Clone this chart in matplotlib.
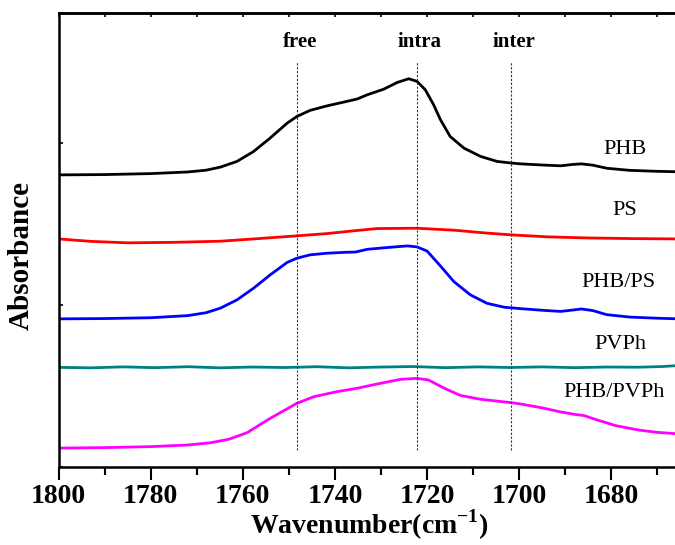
import matplotlib.pyplot as plt
from matplotlib.ticker import MultipleLocator

# ---------------- data ----------------
phb_x = [1800, 1790, 1780, 1772, 1768, 1764.9, 1761.3, 1757.7, 1754.1, 1750.4, 1748.3, 1745.4,
         1741.7, 1738.1, 1735.2, 1733.0, 1729.4, 1726.5, 1724.0, 1722.2, 1720.4, 1718.6, 1717.1,
         1715.0, 1712.0, 1708.4, 1704.8, 1701.7, 1699.7, 1695, 1691, 1688.5, 1686.5, 1684,
         1681, 1676, 1670, 1665]
phb_y = [1.802, 1.804, 1.810, 1.820, 1.831, 1.850, 1.885, 1.946, 2.029, 2.121, 2.162, 2.200,
         2.228, 2.251, 2.270, 2.296, 2.331, 2.372, 2.395, 2.379, 2.327, 2.235, 2.142,
         2.039, 1.967, 1.916, 1.885, 1.875, 1.870, 1.863, 1.858, 1.866, 1.870, 1.862,
         1.843, 1.830, 1.824, 1.821]

ps_x = [1800, 1793, 1785, 1775, 1764.9, 1757.7, 1748.3, 1741.7, 1736.0, 1730.9, 1722.2, 1714.2,
        1707.0, 1701.7, 1694, 1685, 1675, 1665]
ps_y = [1.407, 1.392, 1.383, 1.386, 1.393, 1.407, 1.426, 1.440, 1.457, 1.471, 1.473, 1.461,
        1.443, 1.432, 1.420, 1.413, 1.409, 1.407]

blend_ps_x = [1800, 1790, 1780, 1772, 1768, 1764.9, 1761.3, 1757.7, 1754.1, 1750.4, 1748.3,
              1745.4, 1741.7, 1737.4, 1735.6, 1733.0, 1728.7, 1724.3, 1722.2, 1720.0, 1717.1,
              1714.2, 1710.6, 1707.0, 1703.3, 1699.7, 1695, 1691, 1688.5, 1686.5, 1684, 1681,
              1676, 1670, 1665]
blend_ps_y = [0.914, 0.916, 0.921, 0.934, 0.952, 0.980, 1.031, 1.103, 1.185, 1.262, 1.288,
              1.309, 1.319, 1.325, 1.326, 1.343, 1.354, 1.364, 1.358, 1.332, 1.240,
              1.144, 1.062, 1.010, 0.986, 0.977, 0.967, 0.960, 0.968, 0.975, 0.965, 0.940,
              0.925, 0.918, 0.914]

pvph_x = [1800, 1793, 1786, 1779, 1772, 1765, 1758, 1751, 1744, 1737, 1730, 1723, 1716, 1709,
          1702, 1695, 1688, 1681, 1674, 1669, 1665]
pvph_y = [0.615, 0.612, 0.618, 0.613, 0.619, 0.612, 0.617, 0.614, 0.619, 0.612, 0.617, 0.620,
          0.613, 0.618, 0.614, 0.618, 0.613, 0.617, 0.616, 0.620, 0.627]

blend_pvph_x = [1800, 1790, 1780, 1772, 1767, 1763, 1759.1, 1754.1, 1748.3, 1744.6, 1739.6,
                1735.2, 1730.9, 1725.8, 1722.2, 1719.7, 1716.4, 1712.8, 1708.4, 1701.7, 1699.7,
                1695, 1691, 1688, 1686, 1683, 1679, 1674, 1670, 1665]
blend_pvph_y = [0.117, 0.120, 0.126, 0.136, 0.150, 0.172, 0.212, 0.300, 0.393, 0.434, 0.465,
                0.486, 0.512, 0.541, 0.547, 0.537, 0.488, 0.442, 0.418, 0.397, 0.389,
                0.365, 0.340, 0.325, 0.318, 0.290, 0.255, 0.228, 0.214, 0.204]

series = [
    ("PHB", phb_x, phb_y, "black", 1677, 1.957),
    ("PS", ps_x, ps_y, "#ff0000", 1677, 1.580),
    ("PHB/PS", blend_ps_x, blend_ps_y, "#0000ff", 1678.5, 1.136),
    ("PVPh", pvph_x, pvph_y, "#008080", 1678, 0.753),
    ("PHB/PVPh", blend_pvph_x, blend_pvph_y, "#ff00ff", 1679.5, 0.457),
]

band_names = ["free", "intra", "inter"]
band_pos = [1748.3, 1722.2, 1701.7]

# ---------------- plot ----------------
plt.rcParams["font.family"] = ["Liberation Serif", "DejaVu Serif"]
plt.rcParams["mathtext.fontset"] = "custom"
plt.rcParams["mathtext.bf"] = "Liberation Serif:bold"
plt.rcParams["mathtext.rm"] = "Liberation Serif:bold"

fig = plt.figure(figsize=(6.75, 5.45), dpi=100)
ax = fig.add_axes([0.087, 0.143, 0.921, 0.833])

for name, xs, ys, col, lx, ly in series:
    ax.plot(xs, ys, color=col, lw=2.0, solid_joinstyle="round", solid_capstyle="round")
    ax.text(lx, ly, name, fontsize=16, ha="center", va="center")

for name, pos in zip(band_names, band_pos):
    ax.plot([pos, pos], [0.105, 2.50], color="#333333", lw=0.8, ls=(0, (2, 1.5)))
    ax.text(pos - 0.6, 2.62, name, fontsize=15, fontweight="bold", ha="center", va="center")

ax.set_xlim(1800, 1665)
ax.set_ylim(0, 2.8)

ax.xaxis.set_major_locator(MultipleLocator(20))
ax.xaxis.set_minor_locator(MultipleLocator(10))
ax.yaxis.set_major_locator(MultipleLocator(1))
ax.set_yticklabels([])

ax.tick_params(axis="x", which="major", direction="out", length=9, width=1.5, top=False, pad=3)
ax.tick_params(axis="x", which="minor", direction="out", length=6, width=1.5, top=False)
ax.tick_params(axis="y", which="major", direction="in", length=3, width=1.2)

# inward ticks along the top spine
top = ax.secondary_xaxis("top")
top.xaxis.set_major_locator(MultipleLocator(10))
top.tick_params(direction="in", length=3, width=1.2, labeltop=False)
top.spines["top"].set_linewidth(1.8)

for side in ["left", "bottom", "top", "right"]:
    ax.spines[side].set_linewidth(1.8)

for lab in ax.get_xticklabels():
    lab.set_fontweight("bold")
    lab.set_fontsize(20)

ax.set_xlabel("Wavenumber(cm$^{\\mathbf{-1}}$)", fontsize=20, fontweight="bold", labelpad=-1)
ax.set_ylabel("Absorbance", fontsize=21, fontweight="bold")
ax.yaxis.set_label_coords(-0.038, 0.465)

fig.savefig("out.png", dpi=100)
